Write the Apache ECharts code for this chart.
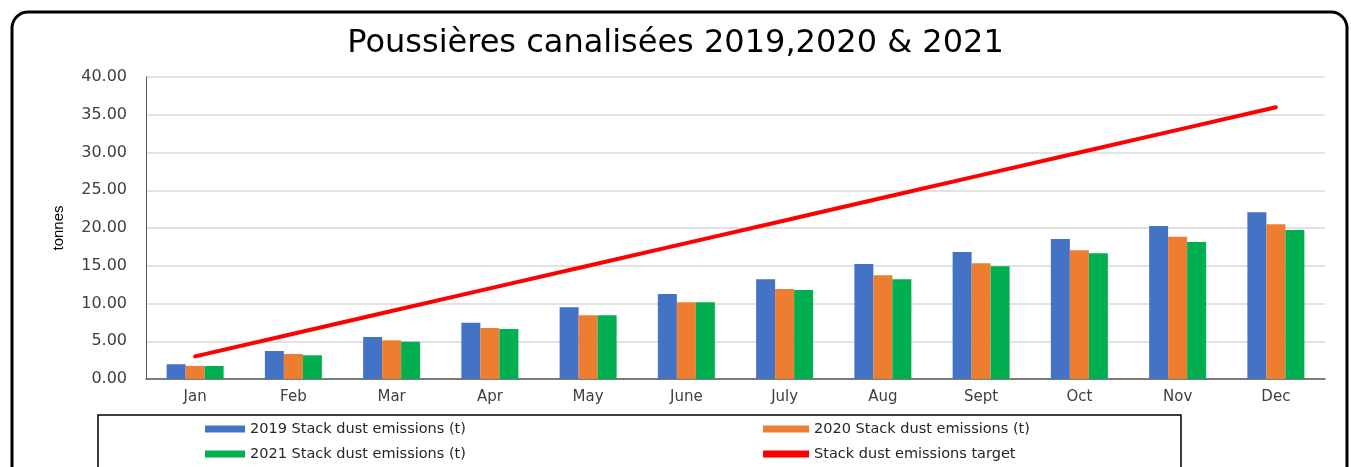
<!DOCTYPE html>
<html>
<head>
<meta charset="utf-8">
<script src="https://cdn.jsdelivr.net/npm/echarts@6/dist/echarts.min.js"></script>
<style>
  html, body { margin: 0; padding: 0; background: #fff; }
  #chart { width: 1351px; height: 467px; }
</style>
</head>
<body>
<div id="chart"></div>
<script>
const months = ['Jan', 'Feb', 'Mar', 'Apr', 'May', 'June', 'July', 'Aug', 'Sept', 'Oct', 'Nov', 'Dec']
const dust2019 = [1.95, 3.71, 5.56, 7.46, 9.5, 11.26, 13.2, 15.23, 16.82, 18.54, 20.26, 22.08]
const dust2020 = [1.74, 3.31, 5.12, 6.75, 8.43, 10.16, 11.92, 13.73, 15.32, 17.04, 18.85, 20.49]
const dust2021 = [1.72, 3.14, 4.94, 6.62, 8.43, 10.16, 11.79, 13.2, 14.92, 16.64, 18.15, 19.73]
const target = [3, 6, 9, 12, 15, 18, 21, 24, 27, 30, 33, 36]
const yTicks = { min: 0, max: 40, interval: 5 }

const font = '"DejaVu Sans", "Open Sans", sans-serif'
const textColor = '#404040'

const chart = echarts.init(document.getElementById('chart'))
const option = {
  animation: false,
  backgroundColor: '#fff',
  title: {
    text: 'Poussières canalisées 2019,2020 & 2021',
    left: 'center',
    top: 23,
    textStyle: { fontFamily: font, fontSize: 32, fontWeight: 'normal', color: '#000' }
  },
  grid: { left: 146, right: 26, top: 77, bottom: 88 },
  legend: [
    {
      orient: 'vertical',
      left: 205,
      top: 421,
      padding: 0,
      itemWidth: 40,
      itemHeight: 7,
      itemGap: 9,
      icon: 'rect',
      textStyle: { fontFamily: font, fontSize: 14.5, color: '#262626', lineHeight: 16 },
      data: ['2019 Stack dust emissions (t)', '2021 Stack dust emissions (t)']
    },
    {
      orient: 'vertical',
      left: 763,
      top: 421,
      padding: 0,
      itemWidth: 46,
      itemHeight: 7,
      itemGap: 9,
      icon: 'rect',
      textStyle: { fontFamily: font, fontSize: 14.5, color: '#262626', lineHeight: 16 },
      data: ['2020 Stack dust emissions (t)', 'Stack dust emissions target']
    }
  ],
  graphic: [
    {
      type: 'rect',
      shape: { x: 12, y: 12, width: 1335, height: 480, r: 16 },
      style: { fill: 'none', stroke: '#000', lineWidth: 3 },
      silent: true
    },
    {
      type: 'rect',
      shape: { x: 98, y: 415, width: 1083, height: 70 },
      style: { fill: 'none', stroke: '#000', lineWidth: 1.5 },
      silent: true
    }
  ],
  xAxis: {
    type: 'category',
    data: months,
    axisLine: { lineStyle: { color: '#595959', width: 1.5 } },
    axisTick: { show: false },
    axisLabel: { fontFamily: font, fontSize: 15, color: textColor, margin: 11 }
  },
  yAxis: {
    type: 'value',
    min: yTicks.min,
    max: yTicks.max,
    interval: yTicks.interval,
    name: 'tonnes',
    nameLocation: 'middle',
    nameGap: 80,
    nameTextStyle: { fontFamily: '"Liberation Sans Narrow", "Liberation Sans", sans-serif', fontSize: 15, color: '#000' },
    axisLine: { show: true, lineStyle: { color: '#595959', width: 1 } },
    axisTick: { show: false },
    splitLine: { lineStyle: { color: '#d9d9d9', width: 1.5 } },
    axisLabel: {
      fontFamily: font,
      fontSize: 16,
      color: textColor,
      margin: 19,
      formatter: function(value) {
        return value.toFixed(2)
      }
    }
  },
  series: [
    {
      name: '2019 Stack dust emissions (t)',
      type: 'bar',
      barWidth: 19,
      barGap: '0%',
      itemStyle: { color: '#4472C4' },
      data: dust2019
    },
    {
      name: '2020 Stack dust emissions (t)',
      type: 'bar',
      barWidth: 19,
      barGap: '0%',
      itemStyle: { color: '#ED7D31' },
      data: dust2020
    },
    {
      name: '2021 Stack dust emissions (t)',
      type: 'bar',
      barWidth: 19,
      barGap: '0%',
      itemStyle: { color: '#00B050' },
      data: dust2021
    },
    {
      name: 'Stack dust emissions target',
      type: 'line',
      showSymbol: false,
      symbol: 'none',
      lineStyle: { color: '#FF0000', width: 4, cap: 'round' },
      itemStyle: { color: '#FF0000' },
      data: target
    }
  ]
}
chart.setOption(option, true)
window.onresize = () => {
  chart.resize()
}
</script>
</body>
</html>
